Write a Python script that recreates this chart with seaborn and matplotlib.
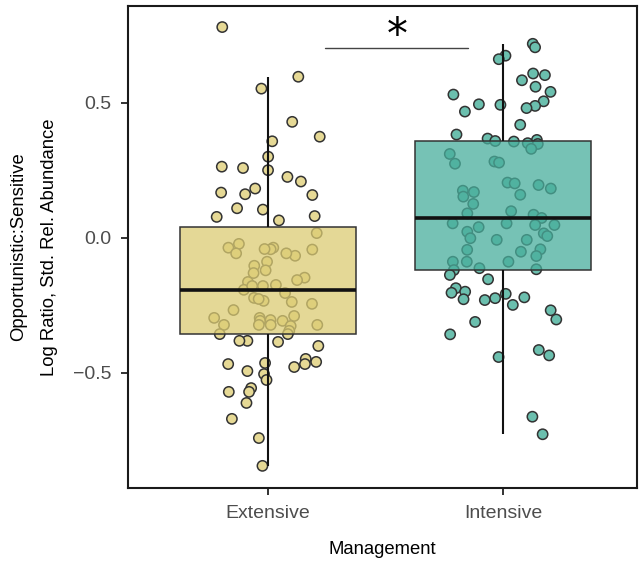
import numpy as np
import pandas as pd
import matplotlib
matplotlib.use("Agg")
import matplotlib.pyplot as plt
import seaborn as sns

categories = ["Extensive", "Intensive"]
point_colors = ["#E6D995", "#6BBFAE"]
box_colors = ["#DCCC73", "#48AE9C"]

extensive_values = [
    0.781, 0.597, 0.553, 0.430, 0.375, 0.358, 0.301, 0.264, 0.259, 0.251, 0.226,
    0.209, 0.183, 0.168, 0.162, 0.159, 0.110, 0.105, 0.081, 0.078, 0.065,
    0.018, -0.022, -0.036, -0.043, -0.036, -0.042, -0.066, -0.057, -0.041, -0.057,
    -0.088, -0.103, -0.120, -0.130, -0.147, -0.156, -0.163, -0.174, -0.192, -0.178, -0.178,
    -0.204, -0.222, -0.233, -0.237, -0.226, -0.244, -0.267, -0.289, -0.296, -0.307,
    -0.307, -0.304, -0.322, -0.296, -0.322, -0.326, -0.322, -0.344, -0.322,
    -0.356, -0.356, -0.381, -0.385, -0.381, -0.400, -0.459, -0.448, -0.463, -0.467,
    -0.467, -0.493, -0.504, -0.478, -0.526, -0.570, -0.556, -0.570, -0.611, -0.670,
    -0.741, -0.844,
]

intensive_values = [
    0.719, 0.706, 0.675, 0.662, 0.609, 0.603, 0.584, 0.560, 0.541, 0.531, 0.506,
    0.495, 0.493, 0.489, 0.481, 0.468, 0.419, 0.383, 0.368, 0.363, 0.359,
    0.357, 0.351, 0.348, 0.330, 0.311, 0.283, 0.279, 0.275, 0.205, 0.202, 0.196,
    0.183, 0.175, 0.170, 0.160, 0.153, 0.126, 0.099, 0.091, 0.086, 0.074,
    0.054, 0.054, 0.048, 0.048, 0.040, 0.023, 0.017, 0.007, -0.001, -0.007,
    -0.007, -0.042, -0.044, -0.051, -0.067, -0.088, -0.088, -0.088, -0.112,
    -0.116, -0.119, -0.137, -0.153, -0.186, -0.199, -0.203, -0.207, -0.220, -0.223,
    -0.227, -0.230, -0.248, -0.268, -0.302, -0.311, -0.357, -0.415, -0.435, -0.441,
    -0.662, -0.727,
]

y_ticks = [-0.5, 0.0, 0.5]
y_tick_labels = ["\u22120.5", "0.0", "0.5"]
x_label = "Management"
y_label = "Opportunistic:Sensitive\nLog Ratio, Std. Rel. Abundance"
sig_label = "*"

df = pd.DataFrame({
    "Management": ["Extensive"] * len(extensive_values) + ["Intensive"] * len(intensive_values),
    "value": extensive_values + intensive_values,
})

sns.set_theme(style="white")
plt.rcParams["font.family"] = ["Liberation Sans", "DejaVu Sans"]

fig = plt.figure(figsize=(6.39, 5.64), dpi=100)
ax = fig.add_axes([128 / 639, 76 / 564, 509 / 639, 482 / 564])

np.random.seed(7)
sns.stripplot(data=df, x="Management", y="value", hue="Management", order=categories,
              palette=point_colors, jitter=0.23, size=7.4, linewidth=1.1, edgecolor="#333333",
              legend=False, ax=ax, zorder=1)

sns.boxplot(data=df, x="Management", y="value", hue="Management", order=categories,
            palette=box_colors, saturation=1, width=0.75, whis=1.5, showfliers=False,
            showcaps=False, linecolor="#333333", linewidth=1.1,
            medianprops=dict(color="#111111", linewidth=2.6),
            whiskerprops=dict(color="#111111", linewidth=1.5),
            legend=False, ax=ax)

for p in ax.patches:
    fc = p.get_facecolor()
    p.set_facecolor((fc[0], fc[1], fc[2], 0.75))
    p.set_zorder(2)
for ln in ax.lines:
    ln.set_zorder(3)

# significance bracket
ax.plot([0.243, 0.851], [0.704, 0.704], color="#444444", lw=1.0, zorder=4)
ax.text(0.548, 0.702, sig_label, ha="center", va="baseline", fontsize=30, color="black",
        family=["DejaVu Sans"])

ax.set_xlim(-0.596, 1.57)
ax.set_ylim(-0.926, 0.859)
ax.set_yticks(y_ticks)
ax.set_yticklabels(y_tick_labels)
ax.set_xlabel(x_label, fontsize=13.3, color="black", labelpad=14)
ax.set_ylabel(y_label, fontsize=13.3, color="black", labelpad=11, linespacing=2.0)
ax.tick_params(axis="both", which="both", direction="out", length=5, width=1.3,
               color="#222222", labelsize=14, labelcolor="#4D4D4D", pad=7,
               left=True, bottom=True)
for s in ax.spines.values():
    s.set_visible(True)
    s.set_color("#1a1a1a")
    s.set_linewidth(1.5)

fig.savefig("out.png", dpi=100)
